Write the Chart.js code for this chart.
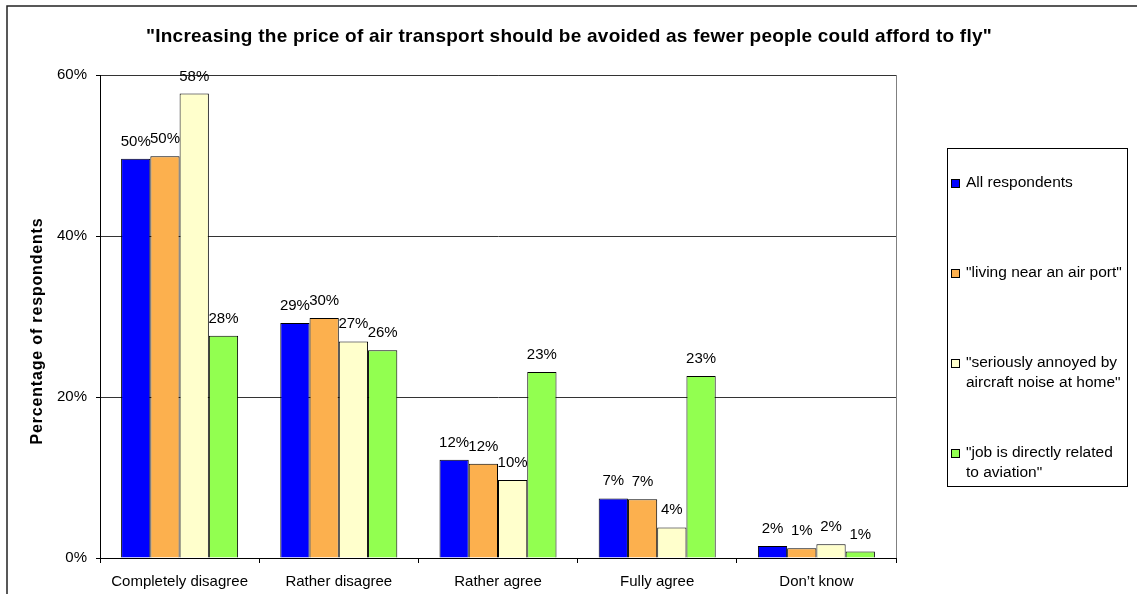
<!doctype html>
<html lang="en">
<head>
  <meta charset="utf-8">
  <title>Air transport price</title>
  <style>
    body { margin: 0; background: #fff; }
    #wrap { width: 1137px; height: 594px; position: relative; }
  </style>
</head>
<body>
  <div id="wrap">
    <canvas id="grafico"></canvas>
  </div>

  <script src="https://cdn.jsdelivr.net/npm/chart.js"></script>
  <script>
    // datos
    const categorias = ['Completely disagree', 'Rather disagree', 'Rather agree', 'Fully agree', 'Don\u2019t know'];
    const todos = [49.6, 29.2, 12.2, 7.4, 1.5];
    const cercaAeropuerto = [49.9, 29.8, 11.7, 7.3, 1.2];
    const molestos = [57.7, 26.9, 9.7, 3.8, 1.7];
    const trabajoAviacion = [27.6, 25.8, 23.1, 22.6, 0.8];
    const ticksY = [0, 20, 40, 60];

    const series = ['All respondents', '"living near an air port"', '"seriously annoyed by aircraft noise at home"', '"job is directly related to aviation"'];
    const colores = ['#0000FF', '#FCB04E', '#FFFFCC', '#92FF50'];
    const titulo = '"Increasing the price of air transport should be avoided as fewer people could afford to fly"';
    const tituloY = 'Percentage of respondents';

    const fuente = "'Liberation Sans', Arial, sans-serif";

    // texto estirado con espaciado de letras hasta un ancho dado
    function textoAncho(ctx, texto, x, y, ancho) {
      ctx.letterSpacing = '0px';
      const w = ctx.measureText(texto).width;
      const extra = Math.max(0, (ancho - w) / texto.length);
      ctx.letterSpacing = extra + 'px';
      ctx.textAlign = 'left';
      ctx.fillText(texto, x - ancho / 2, y);
      ctx.letterSpacing = '0px';
    }

    // marco exterior, borde del area de trazado y titulos
    const marco = {
      id: 'marco',
      beforeDraw(chart) {
        const ctx = chart.ctx;
        const a = chart.chartArea;
        ctx.save();
        ctx.strokeStyle = '#222';
        ctx.lineWidth = 1.5;
        ctx.strokeRect(7, 6, 1200, 700);
        ctx.strokeStyle = '#808080';
        ctx.lineWidth = 1;
        ctx.strokeRect(a.left + 0.5, a.top + 0.5, a.right - a.left, a.bottom - a.top);
        ctx.restore();
      },
      afterDraw(chart) {
        const ctx = chart.ctx;
        const a = chart.chartArea;
        ctx.save();
        ctx.fillStyle = '#000';
        ctx.textBaseline = 'alphabetic';
        ctx.font = 'bold 19px ' + fuente;
        textoAncho(ctx, titulo, 569, 42, 846);
        ctx.translate(38, 331);
        ctx.rotate(-Math.PI / 2);
        ctx.textBaseline = 'middle';
        ctx.font = 'bold 16px ' + fuente;
        textoAncho(ctx, tituloY, 0, 0, 227);
        ctx.restore();
      }
    };

    // etiquetas de porcentaje sobre cada barra
    const etiquetas = {
      id: 'etiquetas',
      afterDatasetsDraw(chart) {
        const ctx = chart.ctx;
        ctx.save();
        ctx.font = '15px ' + fuente;
        ctx.fillStyle = '#000';
        ctx.textAlign = 'center';
        ctx.textBaseline = 'alphabetic';
        chart.data.datasets.forEach((ds, i) => {
          chart.getDatasetMeta(i).data.forEach((bar, j) => {
            ctx.fillText(Math.round(ds.data[j]) + '%', bar.x, bar.y - 13);
          });
        });
        ctx.restore();
      }
    };

    // leyenda a la derecha, en una caja
    const leyenda = {
      id: 'leyenda',
      afterDraw(chart) {
        const ctx = chart.ctx;
        const x0 = 947, y0 = 148, ancho = 180, alto = 338;
        ctx.save();
        ctx.fillStyle = '#fff';
        ctx.fillRect(x0, y0, ancho, alto);
        ctx.strokeStyle = '#000';
        ctx.lineWidth = 1;
        ctx.strokeRect(x0 + 0.5, y0 + 0.5, ancho, alto);
        ctx.font = '15.5px ' + fuente;
        ctx.textBaseline = 'middle';
        chart.data.datasets.forEach((ds, i) => {
          // partir el texto en lineas
          const palabras = ds.label.split(' ');
          const lineas = [];
          let linea = '';
          palabras.forEach(p => {
            const prueba = linea ? linea + ' ' + p : p;
            if (ctx.measureText(prueba).width > 160 && linea) {
              lineas.push(linea);
              linea = p;
            } else {
              linea = prueba;
            }
          });
          lineas.push(linea);
          const y = 183 + i * 90;
          ctx.fillStyle = ds.backgroundColor;
          ctx.fillRect(952, y - 3, 7, 7);
          ctx.strokeStyle = '#000';
          ctx.strokeRect(951.5, y - 3.5, 8, 8);
          ctx.fillStyle = '#000';
          lineas.forEach((l, k) => ctx.fillText(l, 966, y + k * 20));
        });
        ctx.restore();
      }
    };

    const lienzo = document.getElementById('grafico');
    const grafico = new Chart(lienzo, {
      type: 'bar',
      data: {
        labels: categorias,
        datasets: [todos, cercaAeropuerto, molestos, trabajoAviacion].map((d, i) => ({
          label: series[i],
          data: d,
          backgroundColor: colores[i],
          borderColor: '#000',
          borderWidth: 1,
          categoryPercentage: 0.735,
          barPercentage: 1
        }))
      },
      options: {
        responsive: true,
        maintainAspectRatio: false,
        animation: false,
        layout: { padding: { top: 75, left: 0, right: 241, bottom: 0 } },
        scales: {
          x: {
            grid: { offset: true, drawOnChartArea: false, tickLength: 5, color: '#000' },
            border: { color: '#000' },
            ticks: { color: '#000', font: { family: fuente, size: 15 }, padding: 10, maxRotation: 0 },
            afterFit(scale) { scale.height = 36; }
          },
          y: {
            min: 0,
            max: 60,
            afterBuildTicks(scale) { scale.ticks = ticksY.map(v => ({ value: v })); },
            grid: { color: '#333', tickLength: 4, tickColor: '#000' },
            border: { color: '#000' },
            ticks: {
              color: '#000',
              font: { family: fuente, size: 15 },
              padding: 9,
              callback: v => v + '%'
            },
            afterFit(scale) { scale.width = 100; }
          }
        },
        plugins: {
          legend: { display: false },
          tooltip: { enabled: false },
          title: { display: false }
        }
      },
      plugins: [marco, etiquetas, leyenda]
    });
  </script>
</body>
</html>
